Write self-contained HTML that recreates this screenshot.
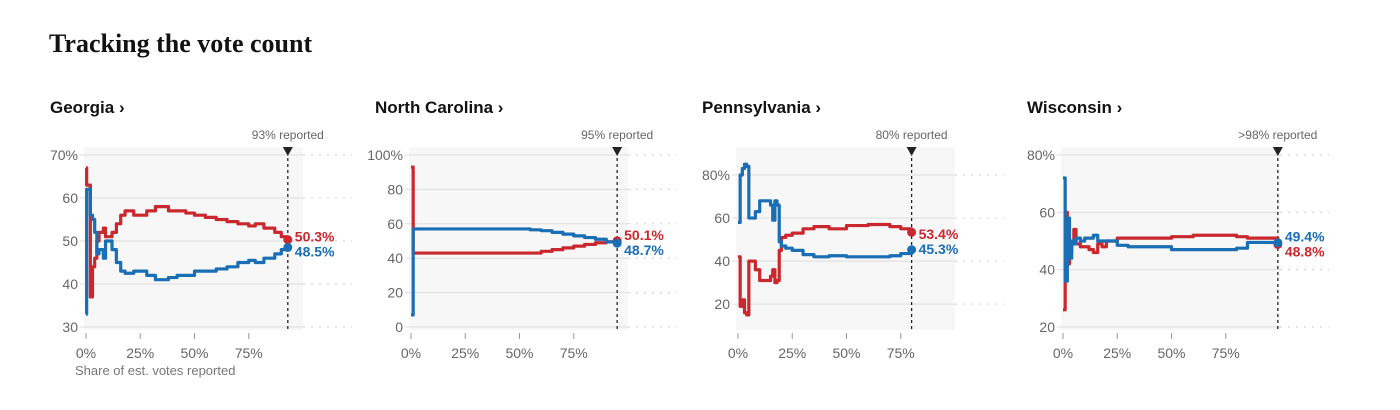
<!DOCTYPE html>
<html><head><meta charset="utf-8">
<style>
html,body{margin:0;padding:0;background:#fff;width:1400px;height:410px;overflow:hidden}
svg{display:block}
</style></head>
<body>
<svg id="chart" width="1400" height="410" viewBox="0 0 1400 410" xmlns="http://www.w3.org/2000/svg">
<text x="49" y="52" font-family="Liberation Serif, serif" font-weight="bold" font-size="26" fill="#121212">Tracking the vote count</text>
</svg>
<script>
// Georgia
const gaX = [0,0.3,2,3,4,5,6,8,9,10,12,14,16,18,22,25,28,32,34,38,42,46,50,55,60,65,70,75,78,82,87,90,93];
const gaRed = [67,63,37,44,46,50,52,53,51,51,52,54,56,57,56,56,57,58,58,57,57,56.5,56,55.5,55,54.5,54,53.5,54,53,52,51,50.3];
const gaBlue = [33,62,56,55,52,47,48,46,50,50,48,45,43,42.5,43,43,42,41,41,41.5,42,42,43,43,43.5,44,45,45.5,45,46,47,48,48.5];
// North Carolina
const ncX = [0,1,20,40,55,60,65,70,75,80,85,90,95];
const ncRed = [93,43,43,43,43,44,45,46,47,48,49,49.5,50.1];
const ncBlue = [7,57,57,57,56.5,56,55,54,53,52,51,49.5,48.7];
// Pennsylvania
const paX = [0,1,2,3,4,5,6,8,10,12,14,15,16,17,18,19,20,22,25,30,35,40,42,50,60,70,75,80];
const paRed = [42,19,22,16,15,40,40,36,31,31,31,33,36,30,31,45,51,52,53,55,56,56,55,56.5,57,56,55,53.4];
const paBlue = [58,80,83,85,84,60,60,63,68,68,68,66,59,68,66,49,47,46,45,43,42,42,42.5,42,42,42.5,43.5,45.3];
// Wisconsin
const wiX = [0,1,2,3,4,5,6,8,10,12,14,16,18,20,25,30,40,50,60,70,80,85,99];
const wiRed = [26,60,42,46,49,54,49,48,48,47,46,49,48,50,51,51,51,51.5,52,52,51.5,51,48.8];
const wiBlue = [72,36,58,44,50,49,51,50,51,51,52,50,50,50,48.5,48,48,47,47,47,47.5,49.5,49.4];

const states = ["Georgia ›","North Carolina ›","Pennsylvania ›","Wisconsin ›"];
const reportedPct = [93,95,80,99];
const reportedLabels = ["93% reported","95% reported","80% reported",">98% reported"];
const yDomains = [[30,70],[0,100],[8,93],[20,80]];
const yTickVals = [[30,40,50,60,70],[0,20,40,60,80,100],[20,40,60,80],[20,40,60,80]];
const yTickTop = ["70%","100%","80%","80%"];
const xTickVals = [0,25,50,75];
const finalRed = ["50.3%","50.1%","53.4%","48.8%"];
const finalBlue = ["48.5%","48.7%","45.3%","49.4%"];
const seriesX = [gaX,ncX,paX,wiX];
const seriesRed = [gaRed,ncRed,paRed,wiRed];
const seriesBlue = [gaBlue,ncBlue,paBlue,wiBlue];

const NS="http://www.w3.org/2000/svg";
const svg=document.getElementById('chart');
const RED="#c9282e", BLUE="#1a6eb3";
function mk(tag,attrs,parent){const e=document.createElementNS(NS,tag);for(const k in attrs)e.setAttribute(k,attrs[k]);(parent||svg).appendChild(e);return e;}

const origins=[86,411,738,1063];
states.forEach((name,i)=>{
  const x0=origins[i];
  const [d0,d1]=yDomains[i];
  let yTop=155,yBot=327;
  if(i===2){yTop=147;yBot=330;}
  const y=v=>yBot-(v-d0)/(d1-d0)*(yBot-yTop);
  const x=p=>x0+p*2.17;
  const g=mk('g',{});
  
  
  const t=mk('text',{x:x0-36,y:113,'font-family':'Liberation Sans, sans-serif','font-weight':'bold','font-size':17,fill:'#121212'},g);
  t.textContent=name;
  
  
  const bg=mk('rect',{x:x0-2,y:147,width:219,height:183,fill:'#f7f7f7'},g);
  
  
  yTickVals[i].forEach((v,k)=>{
    const yy=y(v);
    const gl=mk('line',{x1:x0-6,x2:x0+217,y1:yy,y2:yy,stroke:'#ddd','stroke-width':1},g);
    
    
    const gd=mk('line',{x1:x0+217,x2:x0+266,y1:yy,y2:yy,stroke:'#ccc','stroke-width':1,'stroke-dasharray':'2,6'},g);
    
    
    const lbl=mk('text',{x:x0-8,y:yy+5,'text-anchor':'end','font-family':'Liberation Sans, sans-serif','font-size':14,fill:'#666'},g);
    lbl.textContent=(k===yTickVals[i].length-1)?yTickTop[i]:String(v);
    
    
  });
  xTickVals.forEach(p=>{
    const tk=mk('line',{x1:x(p),x2:x(p),y1:333,y2:339,stroke:'#999','stroke-width':1},g);
    
    
    const lbl=mk('text',{x:x(p),y:358,'text-anchor':'middle','font-family':'Liberation Sans, sans-serif','font-size':14,fill:'#666'},g);
    lbl.textContent=p+'%';
    
    
  });
  if(i===0){
    const xt=mk('text',{x:75,y:375,'font-family':'Liberation Sans, sans-serif','font-size':13,fill:'#777'},g);
    xt.textContent='Share of est. votes reported';
    
    
  }
  const rx=x(reportedPct[i]);
  const rl=mk('line',{x1:rx,x2:rx,y1:152,y2:332,stroke:'#222','stroke-width':1.3,'stroke-dasharray':'3,3'},g);
  
  
  const tri=mk('path',{d:`M${rx-5},147 L${rx+5},147 L${rx},156 Z`,fill:'#222'},g);
  
  
  const rt=mk('text',{x:rx,y:139,'text-anchor':'middle','font-family':'Liberation Sans, sans-serif','font-size':12,fill:'#666'},g);
  rt.textContent=reportedLabels[i];
  
  
  const xs=seriesX[i];
  [[seriesRed[i],RED,'red-line'],[seriesBlue[i],BLUE,'blue-line']].forEach(([vals,col,nm])=>{
    let d=`M${x(xs[0])},${y(vals[0])}`;
    for(let k=1;k<xs.length;k++){d+=` L${x(xs[k])},${y(vals[k-1])} L${x(xs[k])},${y(vals[k])}`;}
    const p=mk('path',{d:d,fill:'none',stroke:col,'stroke-width':3.2,'stroke-linejoin':'round'},g);
    
    
  });
  const rv=seriesRed[i][seriesRed[i].length-1], bv=seriesBlue[i][seriesBlue[i].length-1];
  const dr=mk('circle',{cx:rx,cy:y(rv),r:4.5,fill:RED},g);
  
  
  const db=mk('circle',{cx:rx,cy:y(bv),r:4.5,fill:BLUE},g);
  
  
  const redTop = rv>=bv;
  const mid=(y(rv)+y(bv))/2;
  const lr=mk('text',{x:rx+7,y:redTop?mid-2:mid+13,'font-family':'Liberation Sans, sans-serif','font-weight':'bold','font-size':14,fill:RED},g);
  lr.textContent=finalRed[i];
  
  
  const lb=mk('text',{x:rx+7,y:redTop?mid+13:mid-2,'font-family':'Liberation Sans, sans-serif','font-weight':'bold','font-size':14,fill:BLUE},g);
  lb.textContent=finalBlue[i];
  
  
});
</script>
</body></html>
